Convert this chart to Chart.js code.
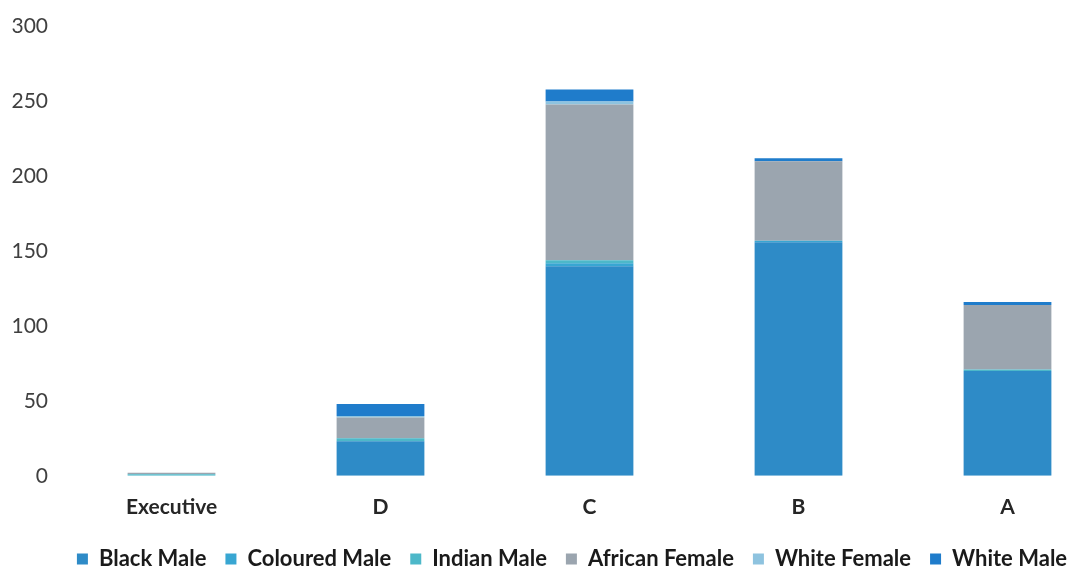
<!DOCTYPE html>
<html>
<head>
<meta charset="utf-8">
<script src="https://cdn.jsdelivr.net/npm/chart.js@4"></script>
<style>
  html, body { margin: 0; padding: 0; background: #fff; overflow: hidden; }
  #wrap { width: 1144px; height: 593px; margin-top: -5px; }
</style>
</head>
<body>
<div id="wrap"><canvas id="myChart" width="1144" height="593"></canvas></div>
<script>
// job levels on the x axis
const levels = ['Executive', 'D', 'C', 'B', 'A'];

// headcount per group, stacked bottom to top
const blackMale     = [0, 23, 140, 156, 70];
const colouredMale  = [0, 0, 2, 1, 0];
const indianMale    = [1, 2, 2, 0, 1];
const africanFemale = [1, 14, 104, 53, 43];
const whiteFemale   = [0, 1, 2, 0, 0];
const whiteMale     = [0, 8, 8, 2, 2];

const yTicks = [0, 50, 100, 150, 200, 250, 300];

// center the legend on the whole canvas instead of the padded box
const legendOffset = {
    id: 'legendOffset',
    afterLayout(chart) {
        chart.legend.left += 16;
        chart.legend.right += 16;
    }
};

const createChart = () => {
    const ctx = document.getElementById('myChart').getContext('2d');
    const series = [
        ['Black Male', blackMale, '#2e8bc7'],
        ['Coloured Male', colouredMale, '#38a6d2'],
        ['Indian Male', indianMale, '#4db8c9'],
        ['African Female', africanFemale, '#9ba5af'],
        ['White Female', whiteFemale, '#8ec3df'],
        ['White Male', whiteMale, '#1f7ccb']
    ];
    new Chart(ctx, {
        type: 'bar',
        data: {
            labels: levels,
            datasets: series.map(([label, data, color]) => ({
                label: label,
                data: data,
                backgroundColor: color,
                borderWidth: 0,
                categoryPercentage: 1,
                barPercentage: 0.42
            }))
        },
        options: {
            responsive: false,
            animation: false,
            layout: { padding: { top: 11, right: 32, left: 0, bottom: 8 } },
            scales: {
                x: {
                    stacked: true,
                    // labels keep their offset, legend sits closer
                    afterFit: (axis) => { axis.height -= 10; },
                    grid: { display: false, drawTicks: false },
                    border: { display: false },
                    ticks: {
                        color: '#262626',
                        padding: 19,
                        font: { family: 'Lato', size: 21, weight: 'bold' }
                    }
                },
                y: {
                    stacked: true,
                    min: 0,
                    max: 300,
                    afterBuildTicks: (axis) => { axis.ticks = yTicks.map(v => ({ value: v })); },
                    afterFit: (axis) => { axis.width = 67; },
                    grid: { display: false, drawTicks: false },
                    border: { display: false },
                    ticks: {
                        color: '#404040',
                        padding: 19,
                        font: { family: 'Lato', size: 21 }
                    }
                }
            },
            plugins: {
                legend: {
                    position: 'bottom',
                    labels: {
                        color: '#1a1a1a',
                        boxWidth: 11,
                        boxHeight: 11,
                        padding: 19,
                        font: { family: 'Lato', size: 22, weight: 'bold' }
                    }
                },
                tooltip: { enabled: false }
            }
        },
        plugins: [legendOffset]
    });
};

createChart();
</script>
</body>
</html>
